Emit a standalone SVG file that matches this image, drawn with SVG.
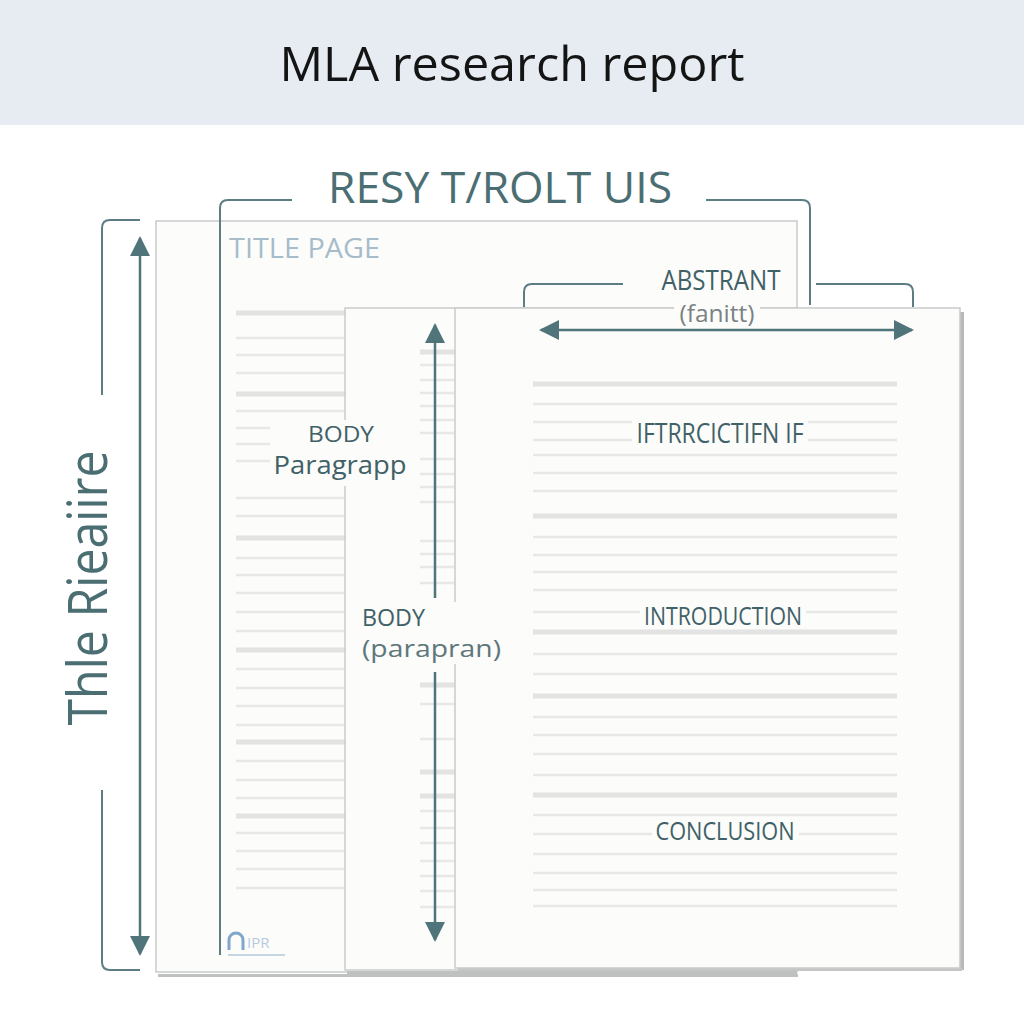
<svg xmlns="http://www.w3.org/2000/svg" width="1024" height="1024" viewBox="0 0 1024 1024">
<defs>
<style>
.t{font-family:"Open Sans","Liberation Sans",sans-serif;}
.dark{fill:#3f6167;}
.page{fill:#fcfcfa;stroke:#c9cbcb;stroke-width:1.5;}
.ln{stroke:#e7e8e7;stroke-width:2.5;}
.lnb{stroke:#e2e3e2;stroke-width:5;}
.con{stroke:#4f757b;stroke-width:2.5;fill:none;}
.brk{stroke:#5b7d83;stroke-width:2;fill:none;}
</style>
<marker id="ah" viewBox="0 0 10 10" refX="9" refY="5" markerWidth="8" markerHeight="8" markerUnits="strokeWidth" orient="auto-start-reverse">
<path d="M0,0 L10,5 L0,10 z" fill="#4f757b"/>
</marker>
</defs>
<rect width="1024" height="1024" fill="#ffffff"/>
<rect width="1024" height="125" fill="#e7ecf2"/>
<text class="t" x="512" y="81" font-size="48" text-anchor="middle" fill="#141414" textLength="465" lengthAdjust="spacingAndGlyphs">MLA research report</text>

<g id="page1">
<rect x="158" y="974" width="640" height="3" fill="#bfc1c1"/>
<rect class="page" x="156" y="221" width="641" height="751"/>
<text class="t" x="229" y="258" font-size="28" fill="#a6bccb" textLength="151" lengthAdjust="spacingAndGlyphs">TITLE PAGE</text>
<g>
<line class="lnb" x1="236" x2="345" y1="313" y2="313"/>
<line class="ln" x1="236" x2="345" y1="338" y2="338"/>
<line class="ln" x1="236" x2="345" y1="355" y2="355"/>
<line class="ln" x1="236" x2="345" y1="373" y2="373"/>
<line class="lnb" x1="236" x2="345" y1="394" y2="394"/>
<line class="ln" x1="236" x2="345" y1="411" y2="411"/>
<line class="ln" x1="236" x2="345" y1="428" y2="428"/>
<line class="ln" x1="236" x2="300" y1="444" y2="444"/>
<line class="ln" x1="236" x2="280" y1="461" y2="461"/>
<line class="ln" x1="236" x2="345" y1="498" y2="498"/>
<line class="ln" x1="236" x2="345" y1="516" y2="516"/>
<line class="lnb" x1="236" x2="345" y1="538" y2="538"/>
<line class="ln" x1="236" x2="345" y1="558" y2="558"/>
<line class="ln" x1="236" x2="345" y1="575" y2="575"/>
<line class="ln" x1="236" x2="345" y1="593" y2="593"/>
<line class="ln" x1="236" x2="345" y1="612" y2="612"/>
<line class="ln" x1="236" x2="345" y1="631" y2="631"/>
<line class="lnb" x1="236" x2="345" y1="650" y2="650"/>
<line class="ln" x1="236" x2="345" y1="669" y2="669"/>
<line class="ln" x1="236" x2="345" y1="688" y2="688"/>
<line class="ln" x1="236" x2="345" y1="706" y2="706"/>
<line class="ln" x1="236" x2="345" y1="725" y2="725"/>
<line class="lnb" x1="236" x2="345" y1="742" y2="742"/>
<line class="ln" x1="236" x2="345" y1="761" y2="761"/>
<line class="ln" x1="236" x2="345" y1="780" y2="780"/>
<line class="ln" x1="236" x2="345" y1="798" y2="798"/>
<line class="lnb" x1="236" x2="345" y1="816" y2="816"/>
<line class="ln" x1="236" x2="345" y1="833" y2="833"/>
<line class="ln" x1="236" x2="345" y1="851" y2="851"/>
<line class="ln" x1="236" x2="345" y1="869" y2="869"/>
<line class="ln" x1="236" x2="345" y1="888" y2="888"/>
</g>
<path d="M229,950 v-10 a7,7 0 0 1 14,0 v10" fill="none" stroke="#7fa6cc" stroke-width="3"/>
<text class="t" x="247" y="948" font-size="15" fill="#b6cbe0">IPR</text>
<line x1="228" y1="955" x2="285" y2="955" stroke="#c5d5e4" stroke-width="2"/>
</g>

<g id="page2">
<rect x="347" y="971" width="450" height="3" fill="#bfc1c1"/>
<rect class="page" x="345" y="308" width="452" height="662"/>
<g>
<line class="lnb" x1="420" x2="455" y1="352" y2="352"/>
<line class="ln" x1="420" x2="455" y1="365" y2="365"/>
<line class="ln" x1="420" x2="455" y1="380" y2="380"/>
<line class="ln" x1="420" x2="455" y1="393" y2="393"/>
<line class="ln" x1="420" x2="455" y1="406" y2="406"/>
<line class="ln" x1="420" x2="455" y1="420" y2="420"/>
<line class="ln" x1="420" x2="455" y1="433" y2="433"/>
<line class="ln" x1="420" x2="455" y1="459" y2="459"/>
<line class="ln" x1="420" x2="455" y1="474" y2="474"/>
<line class="ln" x1="420" x2="455" y1="487" y2="487"/>
<line class="ln" x1="420" x2="455" y1="502" y2="502"/>
<line class="ln" x1="420" x2="455" y1="541" y2="541"/>
<line class="ln" x1="420" x2="455" y1="554" y2="554"/>
<line class="ln" x1="420" x2="455" y1="567" y2="567"/>
<line class="ln" x1="420" x2="455" y1="583" y2="583"/>
<line class="lnb" x1="420" x2="455" y1="685" y2="685"/>
<line class="ln" x1="420" x2="455" y1="704" y2="704"/>
<line class="ln" x1="420" x2="455" y1="739" y2="739"/>
<line class="lnb" x1="420" x2="455" y1="772" y2="772"/>
<line class="lnb" x1="420" x2="455" y1="796" y2="796"/>
<line class="ln" x1="420" x2="455" y1="811" y2="811"/>
<line class="ln" x1="420" x2="455" y1="828" y2="828"/>
<line class="ln" x1="420" x2="455" y1="843" y2="843"/>
<line class="ln" x1="420" x2="455" y1="861" y2="861"/>
<line class="ln" x1="420" x2="455" y1="876" y2="876"/>
<line class="ln" x1="420" x2="455" y1="891" y2="891"/>
<line class="ln" x1="420" x2="455" y1="907" y2="907"/>
</g>
</g>

<g id="page3">
<rect x="960" y="312" width="4" height="658" fill="#b9bbbb"/>
<rect x="458" y="968" width="504" height="3" fill="#c4c6c6"/>
<rect class="page" x="455" y="308" width="505" height="660"/>
<g>
<line class="lnb" x1="533" x2="897" y1="384" y2="384"/>
<line class="ln" x1="533" x2="897" y1="404" y2="404"/>
<line class="ln" x1="533" x2="897" y1="422" y2="422"/>
<line class="ln" x1="533" x2="897" y1="440" y2="440"/>
<line class="ln" x1="533" x2="897" y1="455" y2="455"/>
<line class="ln" x1="533" x2="897" y1="473" y2="473"/>
<line class="ln" x1="533" x2="897" y1="491" y2="491"/>
<line class="lnb" x1="533" x2="897" y1="516" y2="516"/>
<line class="ln" x1="533" x2="897" y1="537" y2="537"/>
<line class="ln" x1="533" x2="897" y1="555" y2="555"/>
<line class="ln" x1="533" x2="897" y1="572" y2="572"/>
<line class="ln" x1="533" x2="897" y1="590" y2="590"/>
<line class="ln" x1="533" x2="897" y1="612" y2="612"/>
<line class="lnb" x1="533" x2="897" y1="632" y2="632"/>
<line class="ln" x1="533" x2="897" y1="654" y2="654"/>
<line class="ln" x1="533" x2="897" y1="674" y2="674"/>
<line class="lnb" x1="533" x2="897" y1="696" y2="696"/>
<line class="ln" x1="533" x2="897" y1="717" y2="717"/>
<line class="ln" x1="533" x2="897" y1="735" y2="735"/>
<line class="ln" x1="533" x2="897" y1="754" y2="754"/>
<line class="ln" x1="533" x2="897" y1="775" y2="775"/>
<line class="lnb" x1="533" x2="897" y1="795" y2="795"/>
<line class="ln" x1="533" x2="897" y1="815" y2="815"/>
<line class="ln" x1="533" x2="897" y1="834" y2="834"/>
<line class="ln" x1="533" x2="897" y1="854" y2="854"/>
<line class="ln" x1="533" x2="897" y1="873" y2="873"/>
<line class="ln" x1="533" x2="897" y1="890" y2="890"/>
<line class="ln" x1="533" x2="897" y1="906" y2="906"/>
</g>
<rect x="632" y="418" width="176" height="30" fill="#fcfcfa"/>
<text class="t dark" x="720" y="443" font-size="27" text-anchor="middle" textLength="167" lengthAdjust="spacingAndGlyphs">IFTRRCICTIFN IF</text>
<rect x="640" y="601" width="166" height="28" fill="#fcfcfa"/>
<text class="t dark" x="723" y="625" font-size="25" text-anchor="middle" textLength="158" lengthAdjust="spacingAndGlyphs">INTRODUCTION</text>
<rect x="652" y="817" width="147" height="28" fill="#fcfcfa"/>
<text class="t dark" x="725" y="840" font-size="25" text-anchor="middle" textLength="139" lengthAdjust="spacingAndGlyphs">CONCLUSION</text>
</g>

<g id="body-labels">
<rect x="270" y="420" width="140" height="66" fill="#fcfcfa"/>
<text class="t dark" x="341" y="442" font-size="22" text-anchor="middle" textLength="66" lengthAdjust="spacingAndGlyphs">BODY</text>
<text class="t dark" x="340" y="474" font-size="25" text-anchor="middle" textLength="133" lengthAdjust="spacingAndGlyphs">Paragrapp</text>
<rect x="358" y="602" width="146" height="62" fill="#fcfcfa"/>
<text class="t dark" x="362" y="626" font-size="23" textLength="63" lengthAdjust="spacingAndGlyphs">BODY</text>
<text class="t" x="362" y="657" font-size="23" fill="#5f777b" textLength="139" lengthAdjust="spacingAndGlyphs">(parapran)</text>
</g>

<g id="title-bracket">
<text class="t" x="500" y="203" font-size="44" text-anchor="middle" fill="#4b6e73" textLength="344" lengthAdjust="spacingAndGlyphs">RESY T/ROLT UIS</text>
</g>

<g id="abstract-label">
<text class="t dark" x="721" y="290" font-size="27" text-anchor="middle" textLength="119" lengthAdjust="spacingAndGlyphs">ABSTRANT</text>
<rect x="674" y="299" width="86" height="28" fill="#fcfcfa"/>
<text class="t" x="717" y="322" font-size="23" text-anchor="middle" fill="#7a8285" textLength="75" lengthAdjust="spacingAndGlyphs">(fanitt)</text>
</g>

<g id="side-label">
<text class="t" transform="translate(107,588) rotate(-90)" font-size="54" text-anchor="middle" fill="#4b6e73" textLength="275" lengthAdjust="spacingAndGlyphs">Thle Rieaiire</text>
</g>

<g id="connectors">
<path class="brk" d="M220,955 V208 Q220,200 228,200 H292"/>
<path class="brk" d="M706,200 H802 Q810,200 810,208 V305"/>
<path class="brk" d="M524,307 V292 Q524,284 532,284 H623"/>
<path class="brk" d="M816,284 H905 Q913,284 913,292 V307"/>
<path class="brk" d="M140,220 H110 Q102,220 102,228 V395"/>
<path class="brk" d="M102,790 V962 Q102,970 110,970 H140"/>
<line class="con" x1="140" y1="238" x2="140" y2="954" marker-start="url(#ah)" marker-end="url(#ah)"/>
<line class="con" x1="541" y1="330" x2="912" y2="330" marker-start="url(#ah)" marker-end="url(#ah)"/>
<line class="con" x1="435" y1="325" x2="435" y2="598" marker-start="url(#ah)"/>
<line class="con" x1="435" y1="672" x2="435" y2="940" marker-end="url(#ah)"/>
</g>
</svg>
